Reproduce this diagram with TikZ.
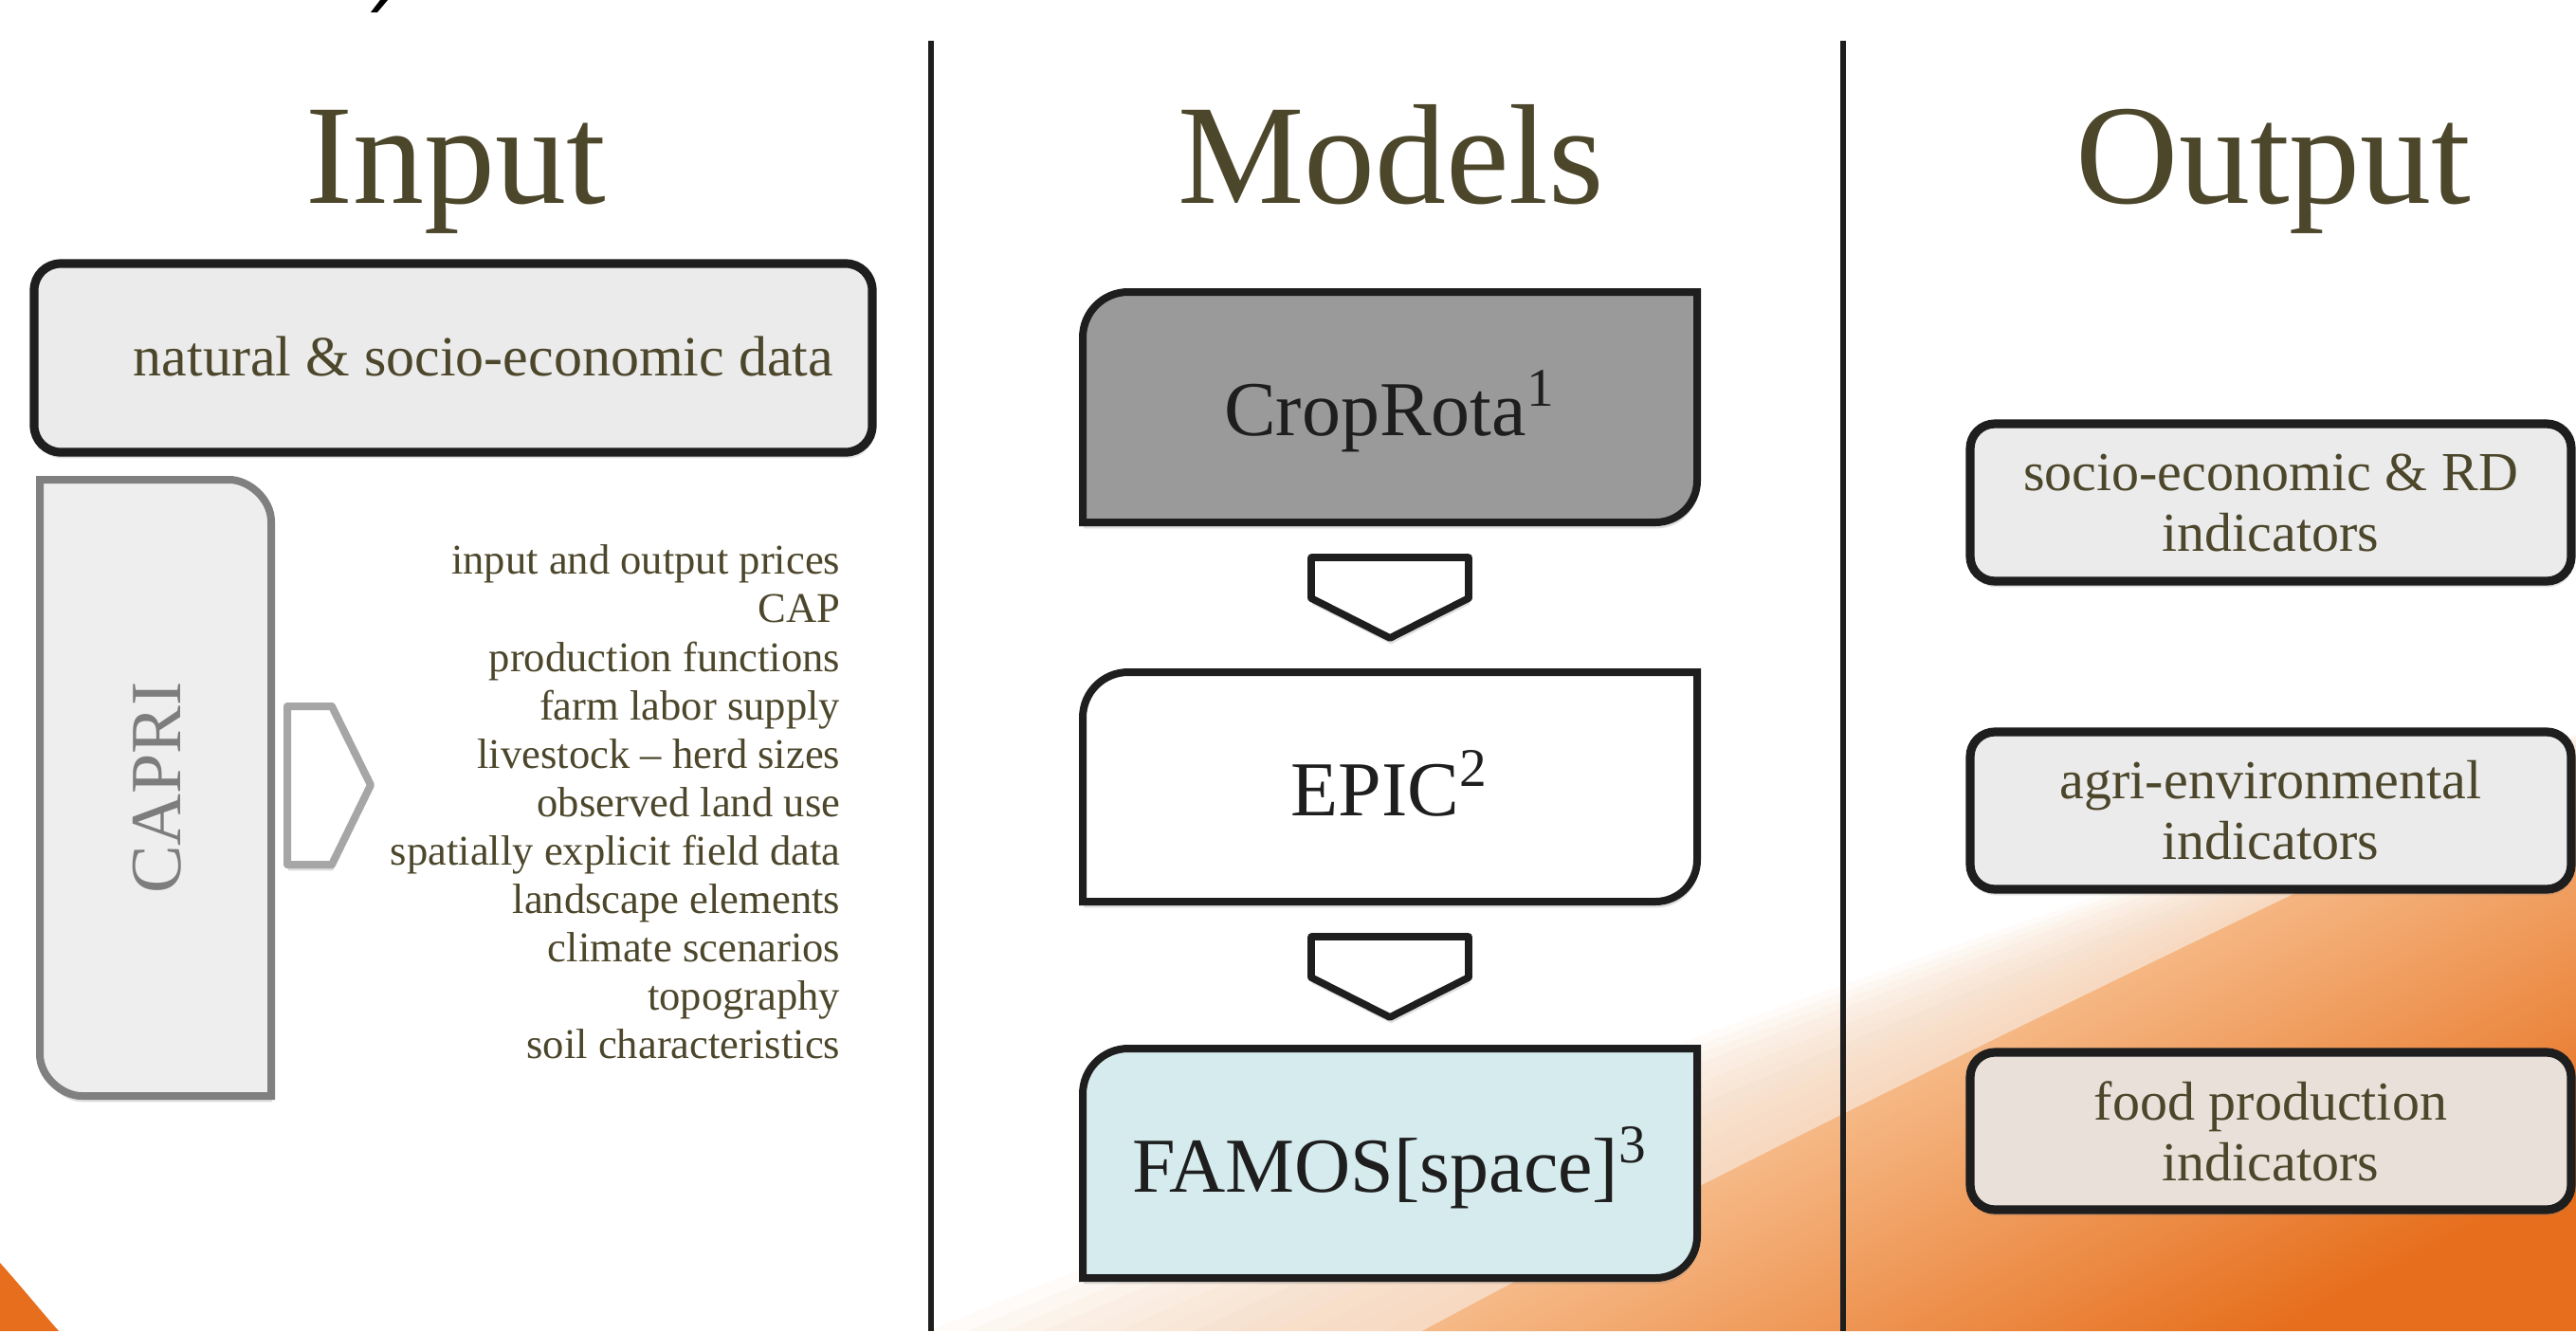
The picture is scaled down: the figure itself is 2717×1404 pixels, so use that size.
\documentclass[tikz,border=0pt]{standalone}
\usepackage{fontspec}
\setmainfont{Liberation Serif}
\usetikzlibrary{shadows}
\definecolor{olive}{RGB}{76,70,43}
\definecolor{linec}{RGB}{30,30,30}
\definecolor{boxgray}{RGB}{235,235,235}
\definecolor{caprifill}{RGB}{238,238,238}
\definecolor{capriline}{RGB}{128,128,128}
\definecolor{capritext}{RGB}{125,125,125}
\definecolor{arrowgray}{RGB}{166,166,166}
\definecolor{cropgray}{RGB}{154,154,154}
\definecolor{famosblue}{RGB}{214,235,238}
\definecolor{foodfill}{RGB}{233,224,217}
\definecolor{peach}{RGB}{247,200,160}
\definecolor{peachmid}{RGB}{245,182,130}
\definecolor{orangedeep}{RGB}{230,110,28}
\begin{document}
\begin{tikzpicture}[x=0.25pt,y=-0.25pt,
  ttl/.style={text=olive, font=\fontsize{37.5}{40}\selectfont, anchor=base, inner sep=0pt},
  divider/.style={draw=linec, line width=1.5pt},
  shadowed/.style={drop shadow={opacity=0.25, shadow xshift=0.3pt, shadow yshift=-1.6pt}},
  databox/.style={draw=linec, line width=2.3pt, fill=boxgray, rounded corners=7pt,
    minimum width=221pt, minimum height=49.75pt, inner sep=0pt, shadowed},
  outbox/.style={draw=linec, line width=2.3pt, fill=boxgray, rounded corners=6.5pt,
    minimum width=158.5pt, minimum height=41.5pt, inner sep=0pt, align=center,
    text=olive, font=\fontsize{14.5}{16}\selectfont, shadowed},
  datatext/.style={text=olive, font=\fontsize{15}{18}\selectfont, anchor=base, inner sep=0pt},
  listtext/.style={text=olive, font=\fontsize{11.15}{12.78}\selectfont, align=right, inner sep=0pt},
  caprishape/.style={draw=capriline, line width=2pt, fill=caprifill, shadowed},
  capritxt/.style={text=capritext, font=\fontsize{19}{22}\selectfont, rotate=90, inner sep=0pt},
  grayarrow/.style={draw=arrowgray, line width=2pt, fill=white, line join=round, shadowed},
  mbox/.style={draw=linec, line width=2pt, shadowed},
  mtext/.style={text=linec, font=\fontsize{20.5}{24}\selectfont, anchor=base, inner sep=0pt},
  marrow/.style={draw=linec, line width=1.9pt, fill=white, line join=round, shadowed}
]
\useasboundingbox (0,0) rectangle (2717,1404);
\fill[white] (0,0) rectangle (2717,1404);

% background orange swooshes: soft halo made of stacked thin layers
\foreach \d in {0,40,...,520} {
  \fill[peach, opacity=0.07]
    ({1500-\d},1404) .. controls ({1850-\d*0.8},1215) and ({2300-\d*0.5},1000) .. (2717,{800-\d*0.05}) -- (2717,1404) -- cycle;
}
\shade[top color=white, bottom color=orangedeep, middle color=peachmid, shading angle=28]
  (1500,1404) .. controls (1850,1215) and (2300,1000) .. (2717,800) -- (2717,1404) -- cycle;
\fill[orangedeep] (0,1332) .. controls (25,1360) and (45,1385) .. (62,1404) -- (0,1404) -- cycle;

% fragment of a glyph cut by the top edge
\fill[black] (401,0) -- (409,0) -- (398,13) -- (391,13) -- cycle;

% column dividers
\draw[divider] (982,43) -- (982,1404);
\draw[divider] (1944,43) -- (1944,1404);

% titles
\node[ttl] (tinput) at (481,214) {Input};
\node[ttl] (tmodels) at (1467,214) {Models};
\node[ttl] (toutput) at (2398,214) {Output};

% input column
\node[databox] (databox) at (478,377.5) {};
\node[datatext] (datatext) at (510,396) {natural \& socio-economic data};

\path[caprishape] (42,506) -- (242,506) .. controls (261.7,506) and (286,525.7) .. (286,550)
  -- (286,1156) -- (86,1156) .. controls (66.3,1156) and (42,1136.3) .. (42,1112) -- cycle;
\node[capritxt] (capri) at (166,831) {CAPRI};
\path[grayarrow] (303,745) -- (350,745) -- (391,828) -- (350,912) -- (303,912) -- cycle;

\node[listtext, anchor=north east] (inlist) at (887,574)
  {input and output prices\\CAP\\production functions\\farm labor supply\\
   livestock \textendash{} herd sizes\\observed land use\\spatially explicit field data\\
   landscape elements\\climate scenarios\\topography\\soil characteristics};

% models column
\path[mbox, fill=cropgray] (1142,551) -- (1142,356) .. controls (1142,329.5) and (1163.5,308) .. (1190,308)
  -- (1790,308) -- (1790,507) .. controls (1790,531.3) and (1770.3,551) .. (1746,551) -- cycle;
\node[mtext] (croprota) at (1466,459) {CropRota\textsuperscript{1}};

\path[marrow] (1383,588) -- (1549,588) -- (1549,631) -- (1466,673) -- (1383,631) -- cycle;

\path[mbox, fill=white] (1142,951) -- (1142,757) .. controls (1142,730.5) and (1163.5,709) .. (1190,709)
  -- (1790,709) -- (1790,907) .. controls (1790,931.3) and (1770.3,951) .. (1746,951) -- cycle;
\node[mtext] (epic) at (1466,860) {EPIC\textsuperscript{2}};

\path[marrow] (1383,988) -- (1549,988) -- (1549,1031) -- (1466,1073) -- (1383,1031) -- cycle;

\path[mbox, fill=famosblue] (1142,1348) -- (1142,1154) .. controls (1142,1127.5) and (1163.5,1106) .. (1190,1106)
  -- (1790,1106) -- (1790,1304) .. controls (1790,1328.3) and (1770.3,1348) .. (1746,1348) -- cycle;
\node[mtext] (famos) at (1466,1257) {FAMOS[space]\textsuperscript{3}};

% output column
\node[outbox] (out1) at (2395,530) {socio-economic \& RD\\indicators};
\node[outbox] (out2) at (2395,855) {agri-environmental\\indicators};
\node[outbox, fill=foodfill] (out3) at (2395,1193) {food production\\indicators};
\end{tikzpicture}
\end{document}
